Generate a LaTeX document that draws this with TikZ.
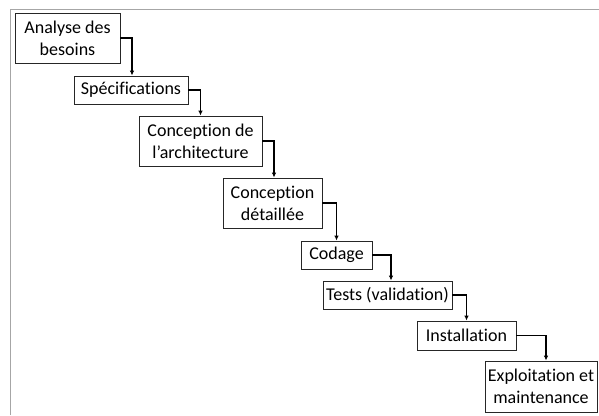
\documentclass[tikz,border=0pt]{standalone}
\usepackage{fontspec}
\setmainfont{Carlito}[Ligatures={NoCommon}]
\usetikzlibrary{arrows.meta}
\begin{document}
\begin{tikzpicture}[x=1pt,y=-1pt,
  phase/.style={draw=black!85, line width=0.8pt, fill=white, align=center,
    inner sep=0pt, font=\fontsize{18}{22}\selectfont},
  flow/.style={draw=black, line width=1.5pt, -{Latex[length=5pt,width=4.5pt]}}]
\useasboundingbox (0,0) rectangle (599,415);
% frame
\draw[gray!70, line width=1pt] (10,415) -- (10,9) -- (599,9);
% phases
\node[phase, minimum width=105pt, minimum height=50pt] (p1) at (67.5,38) {Analyse des\\besoins};
\node[phase, minimum width=114pt, minimum height=28pt] (p2) at (131,90) {Spécifications};
\node[phase, minimum width=123pt, minimum height=50pt] (p3) at (200.5,141) {Conception de\\l’architecture};
\node[phase, minimum width=99pt, minimum height=50pt] (p4) at (272.5,203) {Conception\\détaillée};
\node[phase, minimum width=71pt, minimum height=28pt] (p5) at (336.5,255) {Codage};
\node[phase, minimum width=129pt, minimum height=28pt] (p6) at (387.5,295) {Tests (validation)};
\node[phase, minimum width=99pt, minimum height=29pt] (p7) at (466.5,335.5) {Installation};
\node[phase, minimum width=112pt, minimum height=51pt] (p8) at (541,386.5) {Exploitation et\\maintenance};
% connectors
\draw[flow] (p1.east) -| ([xshift=1pt]p2.north);
\draw[flow] (p2.east) -| (p3.north);
\draw[flow] (p3.east) -| ([xshift=1.5pt]p4.north);
\draw[flow] (p4.east) -| (p5.north);
\draw[flow] (p5.east) -| ([xshift=3.5pt]p6.north);
\draw[flow] (p6.east) -| (p7.north);
\draw[flow] (p7.east) -| ([xshift=5pt]p8.north);
\end{tikzpicture}
\end{document}
